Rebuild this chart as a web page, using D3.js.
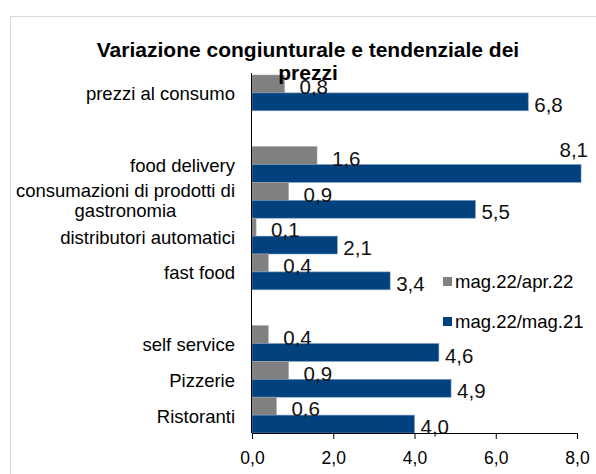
<!DOCTYPE html>
<html>
<head>
<meta charset="utf-8">
<script src="https://cdn.jsdelivr.net/npm/d3@7"></script>
<style>
  body { margin: 0; background: #fff; }
  svg { font-family: "Liberation Sans", Arial, sans-serif; }
</style>
</head>
<body>
<div id="chart"></div>
<script>
var categories = ["prezzi al consumo", "", "food delivery", "consumazioni di prodotti di|gastronomia",
    "distributori automatici", "fast food", "", "self service", "Pizzerie", "Ristoranti"];
var congiunturale = [0.8, null, 1.6, 0.9, 0.1, 0.4, null, 0.4, 0.9, 0.6];
var tendenziale = [6.8, null, 8.1, 5.5, 2.1, 3.4, null, 4.6, 4.9, 4.0];
var seriesNames = ["mag.22/apr.22", "mag.22/mag.21"];
var xTicks = [0, 2, 4, 6, 8];

var W = 596, H = 474;
var margin = {top: 75, left: 252, right: 19, bottom: 41};
var colors = ["#808080", "#00417e"];

var svg = d3.select("#chart").append("svg").attr("width", W).attr("height", H);

// chart frame
svg.append("rect")
    .attr("x", 10.5).attr("y", 16.5)
    .attr("width", W).attr("height", H)
    .attr("fill", "none").attr("stroke", "#d9d9d9");

var x = d3.scaleLinear().domain([0, 8]).range([margin.left, W - margin.right]);
var y = d3.scaleBand().domain(d3.range(categories.length)).range([margin.top, H - margin.bottom]).paddingInner(0).paddingOuter(0);
var sub = d3.scaleBand().domain([0, 1]).range([0, y.bandwidth()]);

var it = d3.formatLocale({decimal: ",", thousands: ".", grouping: [3], currency: ["", "€"]});
var fmt = it.format(".1f");

var rows = categories.map(function(c, i) {
    return {i: i, name: c, vals: [congiunturale[i], tendenziale[i]]};
});

var bars = [];
rows.forEach(function(r) {
    r.vals.forEach(function(v, s) {
        if (v != null) bars.push({i: r.i, s: s, v: v});
    });
});

svg.append("g").selectAll("rect")
    .data(bars)
    .enter().append("rect")
    .attr("x", x(0))
    .attr("y", function(d) { return y(d.i) + sub(d.s); })
    .attr("width", function(d) { return x(d.v) - x(0); })
    .attr("height", sub.bandwidth())
    .attr("fill", function(d) { return colors[d.s]; })
    .attr("stroke", function(d) { return d.s ? "#7f9fbf" : "#a6a6a6"; })
    .attr("stroke-width", 0.6);

// value labels
svg.append("g").selectAll("text")
    .data(bars)
    .enter().append("text")
    .attr("x", function(d) { return x(d.v) + (d.s ? 6 : 15); })
    .attr("y", function(d) { return y(d.i) + sub(d.s) + sub.bandwidth() / 2 + 3; })
    .attr("dy", "0.35em")
    .attr("font-size", "20.5px")
    .attr("fill", "#111")
    .text(function(d) { return fmt(d.v); })
    .each(function(d) {
        var t = d3.select(this);
        var w = this.getComputedTextLength();
        if (x(d.v) + 6 + w > W) {
            // no room: label sits above the bar end
            t.attr("x", W - 8).attr("text-anchor", "end")
             .attr("y", y(d.i) + sub(d.s) - sub.bandwidth() + 3);
        }
    });

// category labels
var cat = svg.append("g").selectAll("text")
    .data(rows.filter(function(r) { return r.name; }))
    .enter().append("text")
    .attr("font-size", "18.5px")
    .attr("fill", "#000");

cat.each(function(r) {
    var lines = r.name.split("|");
    var t = d3.select(this);
    var cy = y(r.i) + y.bandwidth() / 2;
    if (lines.length === 1) {
        t.attr("x", 235).attr("y", cy + 1).attr("dy", "0.35em").attr("text-anchor", "end").text(lines[0]);
    } else {
        t.attr("text-anchor", "middle");
        lines.forEach(function(l, k) {
            t.append("tspan").attr("x", 0).attr("y", cy - 10 + k * 20).attr("dy", "0.35em").text(l);
        });
        var bw = this.getBBox().width;
        t.selectAll("tspan").attr("x", 235 - bw / 2);
    }
});

// axes
svg.append("g")
    .attr("transform", "translate(0," + (H - margin.bottom) + ")")
    .call(d3.axisBottom(x).tickValues(xTicks).tickFormat(fmt).tickSize(6).tickSizeOuter(0))
    .call(function(g) {
        g.select(".domain").attr("stroke", "#000");
        g.selectAll(".tick line").attr("stroke", "#000");
        g.selectAll(".tick text").attr("font-size", "17.5px").attr("fill", "#000").attr("y", 25).attr("dy", "0.35em")
            .attr("font-family", "\"Liberation Sans\", Arial, sans-serif");
    });

svg.append("line")
    .attr("x1", x(0) - 0.5).attr("x2", x(0) - 0.5)
    .attr("y1", margin.top - 2).attr("y2", H - margin.bottom)
    .attr("stroke", "#000");

// legend
var leg = svg.append("g").selectAll("g")
    .data(seriesNames)
    .enter().append("g")
    .attr("transform", function(d, i) { return "translate(443," + (281.5 + i * 40) + ")"; });
leg.append("rect").attr("x", 0).attr("y", -4.5).attr("width", 9).attr("height", 9)
    .attr("fill", function(d, i) { return colors[i]; });
leg.append("text").attr("x", 12).attr("dy", "0.35em").attr("font-size", "18.5px").attr("fill", "#000")
    .text(function(d) { return d; });

// title
var title = svg.append("text")
    .attr("text-anchor", "middle")
    .attr("font-size", "21px")
    .attr("font-weight", "bold")
    .attr("fill", "#000");
title.append("tspan").attr("x", 308).attr("y", 57).text("Variazione congiunturale e tendenziale dei");
title.append("tspan").attr("x", 308).attr("y", 80).text("prezzi");
</script>
</body>
</html>
